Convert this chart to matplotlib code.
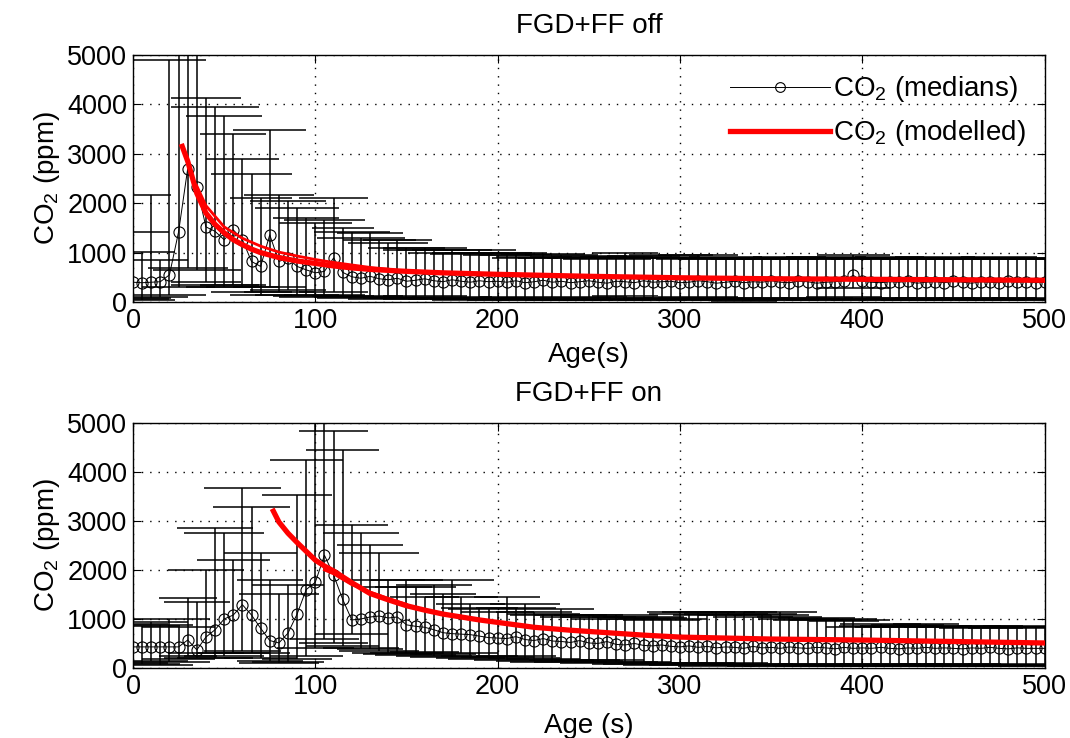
import matplotlib
matplotlib.use("Agg")
import matplotlib.pyplot as plt
import numpy as np

plt.rcParams['font.family'] = ['Liberation Sans', 'DejaVu Sans']
plt.rcParams['mathtext.default'] = 'regular'

# age bins (s), one median every 5 s
age = list(range(0, 505, 5))

# ---- FGD+FF off ----
off_med = [400, 390, 400, 410, 550, 1420, 2700, 2330, 1520, 1430,
           1260, 1460, 1260, 820, 720, 1360, 820, 890, 720, 650,
           590, 620, 890, 600, 510, 480, 520, 470, 450, 480,
           420, 440, 470, 430, 410, 450, 420, 400, 430, 410,
           420, 400, 430, 390, 410, 440, 400, 420, 390, 410,
           430, 400, 380, 420, 410, 390, 430, 400, 410, 420,
           390, 400, 430, 410, 380, 400, 420, 390, 410, 400,
           430, 400, 390, 420, 410, 380, 400, 410, 430, 540,
           420, 400, 390, 410, 400, 420, 380, 400, 410, 390,
           420, 400, 380, 410, 400, 390, 420, 400, 410, 390,
           400]
off_hi = [1420, 1010, 2170, 850, 4900, 5400, 5600, 5200, 4130, 3950,
          3770, 3400, 2900, 2600, 2100, 3480, 2170, 2050, 1900, 1700,
          1600, 1650, 2100, 1500, 1420, 1300, 1400, 1250, 1200, 1250,
          1100, 1050, 1100, 1050, 1000, 1050, 980, 1000, 1050, 1000,
          950, 1000, 950, 900, 920, 980, 900, 960, 920, 900,
          940, 900, 880, 920, 1000, 900, 940, 900, 920, 950,
          900, 880, 950, 900, 880, 920, 900, 880, 900, 880,
          900, 880, 920, 900, 880, 900, 920, 880, 900, 960,
          900, 880, 900, 920, 880, 900, 880, 900, 920, 880,
          900, 880, 900, 880, 900, 920, 880, 900, 880, 900,
          880]
off_lo = [60, 40, 80, 100, 150, 300, 690, 650, 400, 350,
          300, 350, 300, 200, 150, 300, 200, 250, 150, 120,
          100, 150, 200, 120, 100, 80, 120, 100, 60, 80,
          90, 60, 120, 80, 60, 100, 70, 50, 90, 60,
          80, 40, 100, 60, 50, 90, 60, 40, 80, 50,
          100, 60, 40, 80, 120, 50, 70, 40, 90, 60,
          80, 50, 100, 60, 40, 80, 50, 30, 90, 60,
          70, 40, 80, 60, 50, 90, 40, 60, 100, 280,
          60, 40, 80, 60, 50, 90, 40, 60, 80, 50,
          70, 40, 90, 60, 50, 80, 40, 60, 90, 50,
          60]
off_hw = [20, 18, 11, 15, 20, 20, 22, 24, 19, 24,
          21, 18, 20, 22, 17, 20, 19, 21, 23, 18,
          20, 22, 19, 17, 21, 24, 18, 20, 22, 19,
          21, 18, 23, 20, 19, 22, 17, 21, 20, 24,
          19, 22, 20, 18, 21, 23, 19, 20, 22, 18,
          21, 19, 24, 20, 18, 22, 20, 19, 21, 23,
          20, 18, 22, 19, 21, 20, 24, 18, 20, 22,
          19, 21, 20, 23, 18, 20, 22, 19, 21, 20,
          18, 22, 20, 19, 21, 23, 20, 18, 22, 19,
          21, 20, 18, 22, 19, 21, 20, 23, 19, 20,
          20]

off_mod_x = [27, 30, 35, 40, 45, 50, 55, 60, 65, 70, 75, 80, 90, 100, 110,
             120, 130, 140, 150, 170, 200, 250, 300, 350, 400, 450, 500]
off_mod_y = [3150, 2850, 2200, 1800, 1570, 1400, 1260, 1160, 1070, 1000, 950,
             900, 830, 780, 730, 690, 660, 640, 620, 590, 560, 520, 490,
             470, 460, 450, 440]
off_mod2_x = [35, 40, 50, 60, 70, 80, 90, 100, 110, 120, 130, 140]
off_mod2_y = [2350, 1950, 1520, 1290, 1130, 1010, 930, 860, 800, 750, 700, 665]

# ---- FGD+FF on ----
on_med = [430, 430, 430, 430, 430, 430, 570, 370, 630, 780,
          1000, 1080, 1290, 1080, 810, 560, 510, 710, 1100, 1600,
          1750, 2300, 1900, 1400, 980, 1000, 1040, 1060, 1020, 1040,
          880, 850, 830, 780, 720, 700, 690, 680, 650, 620,
          610, 600, 640, 580, 560, 600, 550, 540, 520, 560,
          510, 500, 540, 480, 470, 500, 460, 450, 470, 440,
          430, 450, 420, 440, 410, 430, 420, 400, 440, 410,
          420, 400, 430, 410, 400, 420, 410, 390, 420, 400,
          410, 400, 420, 400, 390, 410, 400, 420, 400, 410,
          400, 390, 410, 400, 420, 400, 390, 410, 400, 400,
          400]
on_hi = [900, 850, 940, 880, 1000, 830, 1430, 1350, 2000, 2860,
         2750, 2200, 3670, 3290, 2350, 1800, 1500, 1700, 3530, 4240,
         5300, 5500, 4840, 4450, 2920, 2750, 2510, 2350, 1800, 1650,
         1800, 1650, 1450, 1700, 1500, 1800, 1450, 1300, 1220, 1200,
         1150, 1450, 1220, 1300, 1150, 1100, 1080, 1200, 1080, 1050,
         1080, 1050, 1000, 1080, 1040, 1000, 1050, 1020, 980, 1000,
         1140, 1100, 1140, 1080, 1140, 1100, 1080, 1140, 1050, 1100,
         1080, 1140, 1050, 1000, 980, 1020, 980, 1000, 960, 980,
         840, 860, 900, 840, 860, 880, 840, 900, 860, 840,
         840, 860, 840, 820, 860, 840, 820, 850, 840, 830,
         840]
on_lo = [100, 80, 150, 60, 120, 180, 250, 200, 300, 200,
         250, 300, 350, 300, 200, 150, 100, 120, 180, 250,
         400, 600, 500, 450, 700, 400, 380, 350, 300, 280,
         300, 260, 320, 240, 280, 220, 300, 200, 250, 180,
         220, 160, 240, 200, 150, 190, 130, 170, 120, 160,
         140, 100, 160, 120, 90, 130, 80, 110, 70, 100,
         90, 60, 110, 80, 50, 100, 70, 60, 90, 50,
         80, 40, 70, 60, 50, 90, 40, 60, 80, 50,
         70, 40, 90, 60, 50, 80, 40, 60, 90, 50,
         60, 80, 40, 70, 50, 60, 90, 40, 60, 50,
         60]
on_hw = [19, 21, 20, 18, 22, 20, 16, 18, 21, 21,
         22, 20, 21, 21, 20, 18, 22, 20, 19, 20,
         21, 19, 19, 20, 20, 21, 18, 22, 20, 19,
         20, 22, 19, 21, 18, 23, 20, 19, 21, 22,
         20, 18, 22, 19, 21, 20, 23, 18, 20, 22,
         19, 21, 20, 23, 18, 20, 22, 19, 21, 20,
         18, 22, 20, 19, 21, 23, 20, 18, 22, 19,
         21, 20, 18, 22, 19, 21, 20, 23, 19, 20,
         20, 18, 22, 19, 21, 20, 24, 18, 20, 22,
         19, 21, 20, 23, 18, 20, 22, 19, 21, 20,
         20]

on_mod_x = [77, 80, 85, 90, 95, 100, 105, 110, 120, 130, 140, 150, 160, 170,
            180, 190, 200, 220, 240, 260, 280, 300, 350, 400, 450, 500]
on_mod_y = [3200, 2980, 2750, 2560, 2380, 2200, 2080, 1980, 1740, 1520, 1390,
            1270, 1180, 1100, 1040, 980, 930, 830, 770, 720, 670, 630, 590,
            570, 540, 510]
on_mod2_x = [105, 110, 120, 130, 140, 150]
on_mod2_y = [2000, 1920, 1700, 1550, 1420, 1300]


def panel(ax, med, lo, hi, hw, mx, my, mx2, my2, title, xlabel, xpad):
    x = np.array(age, dtype=float)
    hw = np.array(hw, dtype=float)
    ax.vlines(x, lo, hi, color='k', lw=1.1, zorder=2)
    ax.hlines(hi, x - hw, x + hw, color='k', lw=1.1, zorder=2)
    ax.hlines(lo, x - hw, x + hw, color='k', lw=1.1, zorder=2)
    ax.plot(x, med, color='k', lw=0.7, marker='o', ms=8, mfc='none',
            mec='k', mew=0.8, zorder=3, label='CO$_2$ (medians)')
    ax.plot(mx, my, color='red', lw=3.8, zorder=4, label='CO$_2$ (modelled)')
    ax.plot(mx2, my2, color='red', lw=2.0, zorder=4)
    ax.set_xlim(0, 500)
    ax.set_ylim(0, 5000)
    ax.set_xticks([0, 100, 200, 300, 400, 500])
    ax.set_yticks([0, 1000, 2000, 3000, 4000, 5000])
    ax.grid(True, color='k', linestyle=(0, (1, 5)), lw=1.0)
    ax.tick_params(direction='in', top=True, right=True, length=6,
                   labelsize=19.5, pad=4)
    ax.set_title(title, fontsize=20, pad=16)
    ax.set_xlabel(xlabel, fontsize=20, labelpad=xpad)
    ax.set_ylabel('CO$_2$ (ppm)', fontsize=20, labelpad=4)
    for s in ax.spines.values():
        s.set_linewidth(1.0)


fig = plt.figure(figsize=(10.7, 7.38), dpi=100)
ax1 = fig.add_axes([0.1243, 0.5908, 0.852, 0.3347])
ax2 = fig.add_axes([0.1243, 0.0949, 0.852, 0.3320])

panel(ax1, off_med, off_lo, off_hi, off_hw, off_mod_x, off_mod_y,
      off_mod2_x, off_mod2_y, 'FGD+FF off', 'Age(s)', 6)
panel(ax2, on_med, on_lo, on_hi, on_hw, on_mod_x, on_mod_y,
      on_mod2_x, on_mod2_y, 'FGD+FF on', 'Age (s)', 10)

leg = ax1.legend(loc='upper right', frameon=False, fontsize=20,
                 handlelength=3.6, handletextpad=0.1, labelspacing=0.5,
                 borderaxespad=0.3)
leg.legend_handles[0].set_markersize(7)

fig.savefig("out.png", dpi=100)
